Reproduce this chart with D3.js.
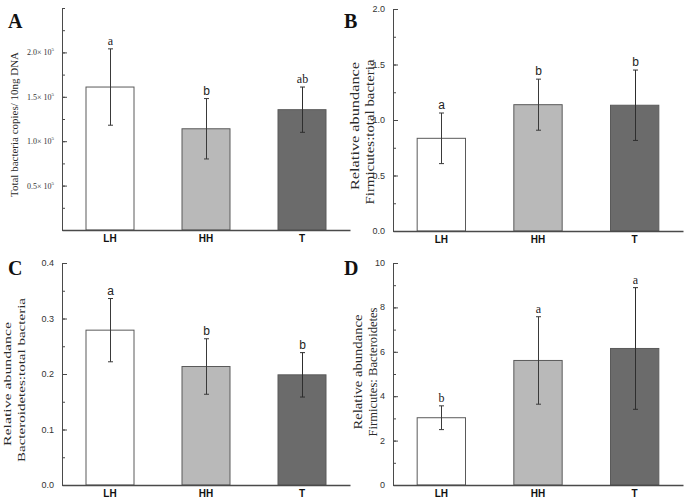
<!DOCTYPE html>
<html><head><meta charset="utf-8">
<script src="https://cdn.jsdelivr.net/npm/d3@7"></script>
<style>body{margin:0;background:#fff}svg{display:block}</style>
</head><body>
<svg id="c" width="685" height="499"></svg>
<script>
const categories = ["LH", "HH", "T"];
const fills = ["#ffffff", "#b9b9b9", "#6b6b6b"];

const aMeans = [1.61, 1.14, 1.355];
const aSD = [0.43, 0.34, 0.255];
const aLetters = ["a", "b", "ab"];
const aTicks = [0.5, 1.0, 1.5, 2.0];

const bMeans = [0.835, 1.138, 1.133];
const bSD = [0.228, 0.23, 0.317];
const bLetters = ["a", "b", "b"];
const bTicks = [0.0, 0.5, 1.0, 1.5, 2.0];

const cMeans = [0.279, 0.2135, 0.1985];
const cSD = [0.057, 0.05, 0.04];
const cLetters = ["a", "b", "b"];
const cTicks = [0.0, 0.1, 0.2, 0.3, 0.4];

const dMeans = [3.03, 5.61, 6.15];
const dSD = [0.535, 1.97, 2.74];
const dLetters = ["b", "a", "a"];
const dTicks = [0, 2, 4, 6, 8, 10];

const serif = "'Liberation Serif','Times New Roman',serif";
const sans = "'Liberation Sans',Arial,sans-serif";

const panels = [
  {id:"A", means:aMeans, sd:aSD, letters:aLetters, letterFonts:[serif, sans, serif], ticks:aTicks, max:2.5, minor:0.25,
   x0:62, x1:350, y0:8, y1:230,
   titles:["Total bacteria copies/ 10ng DNA"], titleX:[17.5], titleY:[124.5], titleLen:[145], titleSize:11,
   tickFmt:"sci", tickFont:serif, letterX:8, letterY:28},
  {id:"B", means:bMeans, sd:bSD, letters:bLetters, letterFonts:[sans, sans, sans], ticks:bTicks, max:2.0, minor:0.25,
   x0:393, x1:683, y0:9, y1:231,
   titles:["Relative abundance","Firmicutes:total bacteria"], titleX:[358.5,373.5], titleY:[126,132], titleLen:[128,145], titleSize:12,
   tickFmt:".1f", tickFont:sans, letterX:344, letterY:28},
  {id:"C", means:cMeans, sd:cSD, letters:cLetters, letterFonts:[sans, sans, sans], ticks:cTicks, max:0.4, minor:0.05,
   x0:62, x1:350, y0:263, y1:485,
   titles:["Relative abundance","Bacteroidetes:total bacteria"], titleX:[11,25], titleY:[384,380], titleLen:[124,164], titleSize:11,
   tickFmt:".1f", tickFont:sans, letterX:8, letterY:275},
  {id:"D", means:dMeans, sd:dSD, letters:dLetters, letterFonts:[serif, serif, serif], ticks:dTicks, max:10, minor:1,
   x0:393, x1:683, y0:263, y1:485,
   titles:["Relative abundance","Firmicutes: Bacteroidetes"], titleX:[362,377], titleY:[372,372], titleLen:[115,129], titleSize:12,
   tickFmt:"d", tickFont:sans, letterX:344, letterY:275}
];

const svg = d3.select("#c");
const axisColor = "#4a4a4a";

panels.forEach(p => {
  const g = svg.append("g");
  const x = d3.scaleBand().domain(categories).range([p.x0, p.x1]).paddingInner(0.5).paddingOuter(0.25);
  const y = d3.scaleLinear().domain([0, p.max]).range([p.y1, p.y0]);

  // bars
  g.selectAll("rect.bar").data(categories).join("rect")
    .attr("x", d => x(d)).attr("width", x.bandwidth())
    .attr("y", (d,i) => y(p.means[i])).attr("height", (d,i) => y(0) - y(p.means[i]))
    .attr("fill", (d,i) => fills[i]).attr("stroke", "#5a5a5a").attr("stroke-width", 1);

  // error bars
  categories.forEach((c,i) => {
    const cx = Math.round(x(c) + x.bandwidth()/2) + 0.5;
    const hi = y(p.means[i] + p.sd[i]), lo = y(p.means[i] - p.sd[i]);
    const col = i === 2 ? "#2e2e2e" : "#3a3a3a";
    g.append("line").attr("x1", cx).attr("x2", cx).attr("y1", hi).attr("y2", lo).attr("stroke", col).attr("stroke-width", 1);
    [hi, lo].forEach(yy => g.append("line").attr("x1", cx-2.5).attr("x2", cx+2.5).attr("y1", yy).attr("y2", yy).attr("stroke", col).attr("stroke-width", 1));
    g.append("text").attr("x", cx).attr("y", hi - 4).attr("text-anchor", "middle")
      .attr("font-family", p.letterFonts[i]).attr("font-size", 12).attr("fill", "#222").text(p.letters[i]);
  });

  // y axis with inward ticks
  const minorTicks = d3.range(0, p.max + p.minor/2, p.minor);
  const yMinor = d3.axisRight(y).tickValues(minorTicks).tickSize(3).tickFormat("");
  g.append("g").attr("transform", `translate(${p.x0},0)`).call(yMinor)
    .call(a => { a.select(".domain").attr("stroke", axisColor); a.selectAll("line").attr("stroke", axisColor); });
  const yMajor = d3.axisRight(y).tickValues(p.ticks).tickSize(5).tickFormat("");
  g.append("g").attr("transform", `translate(${p.x0},0)`).call(yMajor)
    .call(a => { a.select(".domain").remove(); a.selectAll("line").attr("stroke", axisColor); });

  // tick labels
  const lab = g.append("g").selectAll("text").data(p.ticks).join("text")
    .attr("x", p.x0 - 8).attr("y", d => y(d) + 3)
    .attr("text-anchor", "end").attr("font-family", p.tickFont).attr("font-size", p.tickFmt === "sci" ? 8 : 9)
    .attr("fill", "#333");
  if (p.tickFmt === "sci") {
    lab.each(function(d){
      const t = d3.select(this);
      t.append("tspan").text(d3.format(".1f")(d) + "× 10");
      t.append("tspan").attr("dy", -4).attr("font-size", 5).text("5");
    });
  } else {
    lab.text(d => d3.format(p.tickFmt)(d));
  }

  // baseline (x axis)
  const xAxis = d3.axisBottom(x).tickSize(0).tickPadding(5);
  g.append("g").attr("transform", `translate(0,${p.y1})`).call(xAxis)
    .call(a => {
      a.select(".domain").attr("stroke", axisColor).attr("stroke-width", 1.3);
      a.selectAll("text").attr("font-family", sans).attr("font-weight", "bold").attr("font-size", 10).attr("fill", "#111");
    });

  // y titles
  p.titles.forEach((t, k) => {
    g.append("text").attr("transform", `translate(${p.titleX[k]},${p.titleY[k]}) rotate(-90)`)
      .attr("text-anchor", "middle").attr("font-family", serif).attr("font-size", p.titleSize)
      .attr("textLength", p.titleLen[k]).attr("lengthAdjust", "spacingAndGlyphs")
      .attr("fill", "#2a2a2a").text(t);
  });

  // panel letter
  g.append("text").attr("x", p.letterX).attr("y", p.letterY).attr("font-family", serif)
    .attr("font-weight", "bold").attr("font-size", 20).attr("fill", "#111").text(p.id);
});
</script>
</body></html>
